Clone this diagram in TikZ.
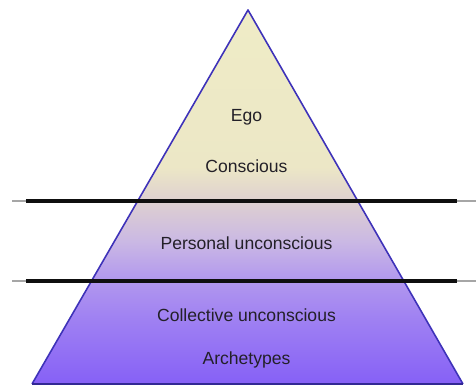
\documentclass[tikz,border=0pt]{standalone}
\usepackage{fontspec}
\setmainfont{Liberation Sans}
\usepackage{xcolor}
\usetikzlibrary{calc,positioning}
\definecolor{pyrEdge}{RGB}{62,50,185}
\definecolor{pyrText}{RGB}{35,32,40}
\definecolor{pyrLine}{RGB}{15,15,15}
\pgfdeclareverticalshading{pyramidfill}{100bp}{%
  color(0bp)=(rgb,255:red,134;green,96;blue,246);
  color(25bp)=(rgb,255:red,134;green,96;blue,246);
  color(34bp)=(rgb,255:red,160;green,130;blue,242);
  color(39bp)=(rgb,255:red,178;green,152;blue,238);
  color(44bp)=(rgb,255:red,202;green,184;blue,228);
  color(49.5bp)=(rgb,255:red,222;green,208;blue,208);
  color(54bp)=(rgb,255:red,236;green,231;blue,198);
  color(75bp)=(rgb,255:red,239;green,236;blue,198);
  color(100bp)=(rgb,255:red,239;green,236;blue,198)}

\begin{document}
\begin{tikzpicture}
\useasboundingbox (0,0) rectangle (9.52,7.74);

\coordinate (apex) at (4.96,7.54);
\coordinate (baseL) at (0.64,0.06);
\coordinate (baseR) at (9.26,0.06);

% pyramid
\shade[shading=pyramidfill] (apex)--(baseL)--(baseR)--cycle;
\draw[pyrEdge, line width=0.9pt, line join=round] (baseL)--(apex)--(baseR);
\draw[pyrEdge!80!black, line width=0.6pt] (baseL)--(baseR);

% dividing lines
\coordinate (upL) at (0.24,3.72);
\coordinate (upR) at (9.52,3.72);
\coordinate (loL) at (0.24,2.12);
\coordinate (loR) at (9.52,2.12);
\draw[gray!70, line width=0.9pt] (upL)--(upR);
\draw[gray!70, line width=0.9pt] (loL)--(loR);
\draw[pyrLine, line width=1.9pt] ($(upL)!0.03!(upR)$)--($(upL)!0.96!(upR)$);
\draw[pyrLine, line width=1.9pt] ($(loL)!0.03!(loR)$)--($(loL)!0.96!(loR)$);

% labels
\node[text=pyrText] (ego) at (4.93,5.40) {Ego};
\node[text=pyrText] (conscious) at (4.93,4.42) {Conscious};
\node[text=pyrText] (personal) at (4.93,2.88) {Personal unconscious};
\node[text=pyrText] (collective) at (4.93,1.44) {Collective unconscious};
\node[text=pyrText] (archetypes) at (4.93,0.54) {Archetypes};
\end{tikzpicture}
\end{document}
